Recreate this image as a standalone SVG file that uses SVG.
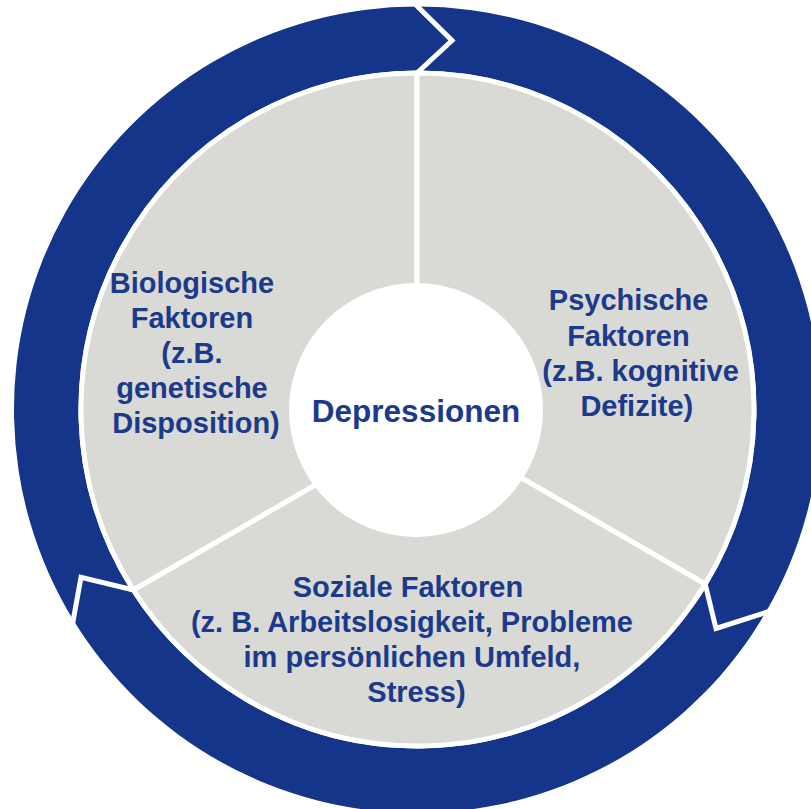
<svg xmlns="http://www.w3.org/2000/svg" width="811" height="809" viewBox="0 0 811 809">
  <defs>
    <style>
      .ring { fill: #143589; }
      .gap { fill: none; stroke: #ffffff; stroke-width: 5; stroke-linejoin: miter; }
      .sector { fill: #D9D9D5; stroke: #ffffff; stroke-width: 5; stroke-linejoin: round; }
      .hub { fill: #ffffff; }
      .label { font-family: "Liberation Sans", Arial, sans-serif; font-weight: bold; font-size: 29px; fill: #1B3A8C; text-anchor: middle; }
      .title { font-size: 31.5px; }
    </style>
  </defs>
  <rect width="811" height="809" fill="#ffffff"/>

  <!-- cycle arrows around the factors (clockwise) -->
  <g id="connectors">
    <path class="ring" d="M417.5,6.5 A403,403 0 0 1 765.6,612.6 L716,628.5 L706,587.4 A339,339 0 0 0 419.7,70.5 L452,40.5 Z"/>
    <path class="ring" d="M765.6,612.6 A403,403 0 0 1 73.3,620 L81,577.3 L130,589.2 A339,339 0 0 0 706,587.4 L716,628.5 Z"/>
    <path class="ring" d="M73.3,620 A403,403 0 0 1 417.5,6.5 L452,40.5 L419.7,70.5 A339,339 0 0 0 130,589.2 L81,577.3 Z"/>
    <polyline class="gap" points="417,73 452,40.5 410.4,-0.5"/>
    <polyline class="gap" points="705.2,584 716,628.5 775.1,609.5"/>
    <polyline class="gap" points="133.5,590 81,577.3 71.5,629.8"/>
  </g>

  <g id="biologisch">
    <path class="sector" d="M417,300 L417,73 A336.5,336.5 0 0 0 133.5,590 L330,476.6 Z"/>
    <text class="label">
      <tspan x="196" y="293">Biologische</tspan>
      <tspan x="196" y="328">Faktoren</tspan>
      <tspan x="196" y="363">(z.B.</tspan>
      <tspan x="196" y="398">genetische</tspan>
      <tspan x="196" y="433">Disposition)</tspan>
    </text>
  </g>

  <g id="psychisch">
    <path class="sector" d="M417,300 L417,73 A336.5,336.5 0 0 1 705.2,584 L507,469.6 Z"/>
    <text class="label">
      <tspan x="632.7" y="310">Psychische</tspan>
      <tspan x="632.4" y="345.5">Faktoren</tspan>
      <tspan x="644.6" y="380.5">(z.B. kognitive</tspan>
      <tspan x="636.8" y="415.5">Defizite)</tspan>
    </text>
  </g>

  <g id="sozial">
    <path class="sector" d="M507,469.6 L705.2,584 A336.5,336.5 0 0 1 133.5,590 L330,476.6 Z"/>
    <text class="label">
      <tspan x="412" y="597">Soziale Faktoren</tspan>
      <tspan x="416" y="632">(z. B. Arbeitslosigkeit, Probleme</tspan>
      <tspan x="416" y="667">im persönlichen Umfeld,</tspan>
      <tspan x="416.5" y="702">Stress)</tspan>
    </text>
  </g>

  <g id="depressionen">
    <circle class="hub" cx="416" cy="410" r="127"/>
    <text class="label title" x="416" y="422">Depressionen</text>
  </g>
</svg>
